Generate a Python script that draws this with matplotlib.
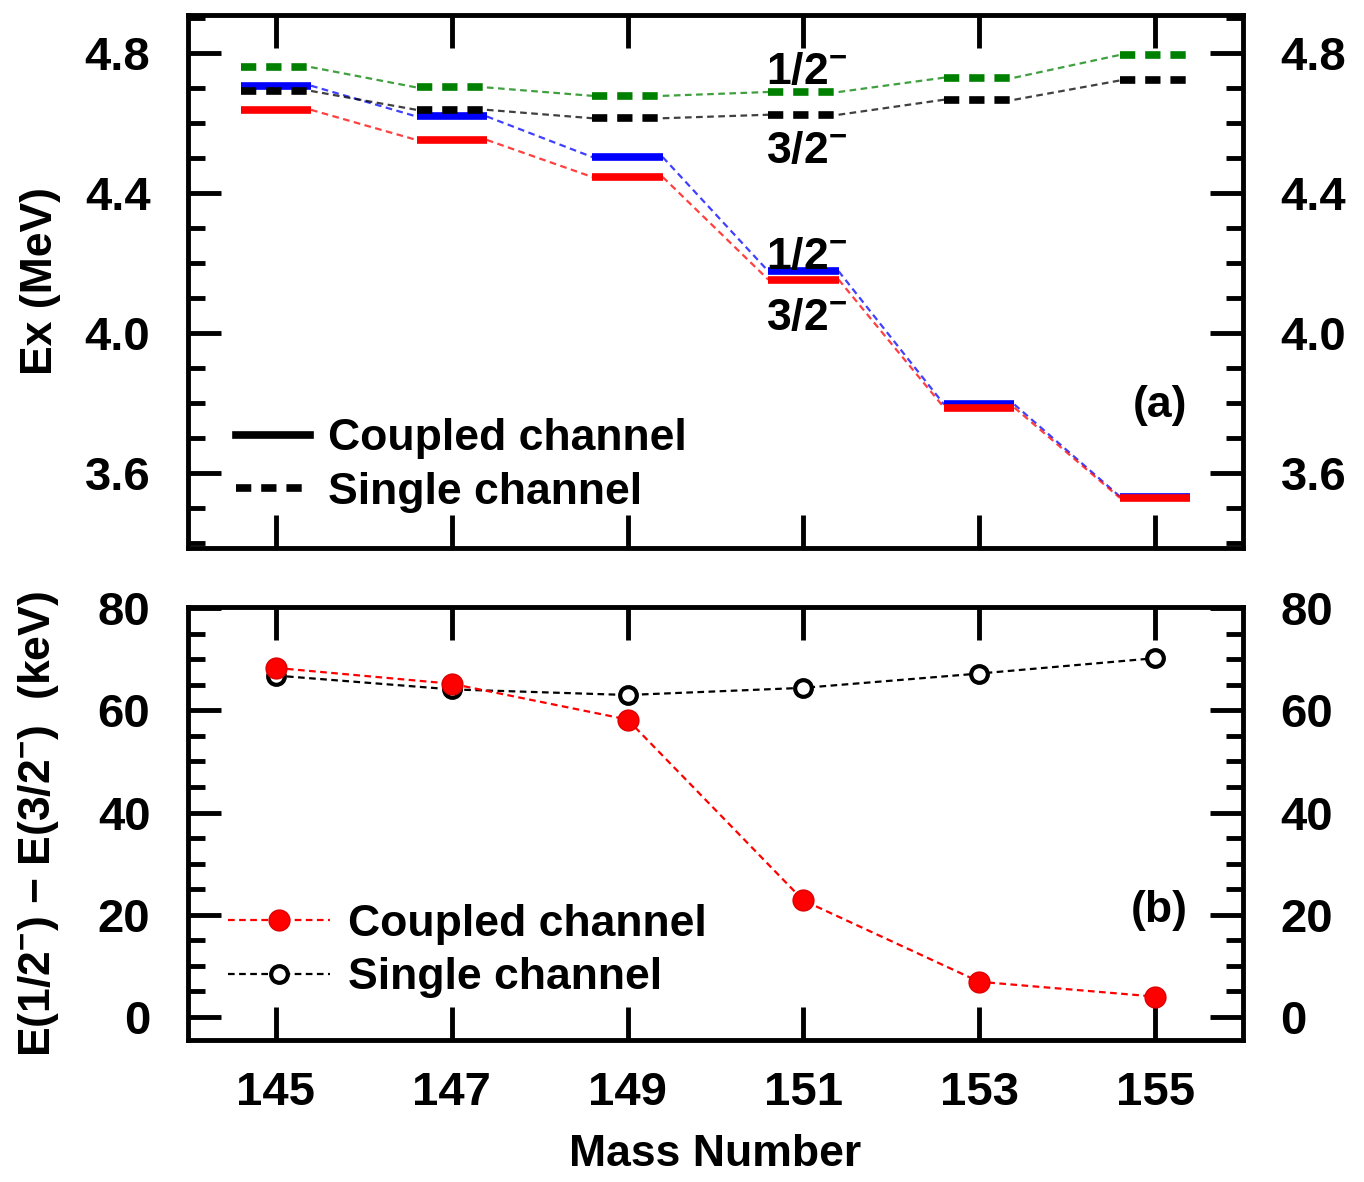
import numpy as np
import matplotlib
matplotlib.use("Agg")
import matplotlib.pyplot as plt
from matplotlib.lines import Line2D
from matplotlib.ticker import MultipleLocator

plt.rcParams["font.family"] = ["Liberation Sans", "DejaVu Sans"]
plt.rcParams["font.weight"] = "bold"
plt.rcParams["mathtext.default"] = "regular"

# Mass numbers
mass = [145, 147, 149, 151, 153, 155]

# Panel (a): excitation energies (MeV)
cc_half = [4.707, 4.619, 4.503, 4.177, 3.796, 3.533]    # coupled, 1/2-
cc_3half = [4.638, 4.552, 4.446, 4.153, 3.787, 3.529]   # coupled, 3/2-
sc_half = [4.760, 4.702, 4.678, 4.689, 4.730, 4.795]    # single, 1/2-
sc_3half = [4.692, 4.638, 4.614, 4.624, 4.667, 4.722]   # single, 3/2-

# Panel (b): splitting (keV)
split_cc = [68.3, 65.2, 58.2, 22.8, 6.9, 4.0]
split_sc = [66.8, 64.1, 63.0, 64.4, 67.2, 70.2]

FS = 32
TFS = 34
green = "#008000"

fig = plt.figure(figsize=(13.64, 11.82), dpi=100)
ax1 = fig.add_axes([0.1378, 0.5364, 0.7735, 0.4509])
ax2 = fig.add_axes([0.1378, 0.1201, 0.7735, 0.3663])

hw = 0.4  # half width of the level bars
m = np.array(mass, dtype=float)

series = [
    (cc_half, "blue", "-"),
    (cc_3half, "red", "-"),
    (sc_half, green, "--"),
    (sc_3half, "black", "--"),
]
for vals, col, ls in series:
    v = np.array(vals)
    # thin connectors between neighbouring levels
    for i in range(len(m) - 1):
        ax1.plot([m[i] + hw, m[i + 1] - hw], [v[i], v[i + 1]], color=col,
                 lw=1.6, ls=(0, (3, 2)), alpha=0.75, zorder=2)
    if ls == "-":
        ax1.hlines(v, m - hw, m + hw, colors=col, lw=5.5, zorder=3)
    else:
        ax1.hlines(v, m - hw, m + hw, colors=col, lw=5.5,
                   linestyles=(0, (2.0, 1.3)), zorder=3)

ax1.set_xlim(144, 156)
ax1.set_ylim(3.386, 4.909)
ax1.yaxis.set_major_locator(MultipleLocator(0.4))
ax1.yaxis.set_minor_locator(MultipleLocator(0.1))
ax1.set_ylabel("Ex (MeV)", fontsize=FS, fontweight="bold")
ax1.yaxis.set_label_coords(-0.12, 0.5)

lab_kw = dict(fontsize=FS, fontweight="bold", ha="left", va="center")
ax1.text(150.58, 4.745, r"1/2$^{-}$", **lab_kw)
ax1.text(150.58, 4.518, r"3/2$^{-}$", **lab_kw)
ax1.text(150.58, 4.215, r"1/2$^{-}$", **lab_kw)
ax1.text(150.58, 4.043, r"3/2$^{-}$", **lab_kw)
ax1.text(0.921, 0.268, "(a)", transform=ax1.transAxes, fontsize=FS,
         fontweight="bold", ha="center", va="center")

h1 = [Line2D([], [], color="black", lw=5.5),
      Line2D([], [], color="black", lw=5.5, ls=(0, (2.0, 1.3)))]
ax1.legend(h1, ["Coupled channel", "Single channel"], loc="upper left",
           bbox_to_anchor=(0.046, 0.243), frameon=False, fontsize=FS,
           borderpad=0, borderaxespad=0, handlelength=1.65,
           handletextpad=0.4, labelspacing=0.28)

# Panel (b)
ax2.plot(mass, split_cc, color="red", lw=1.6, ls=(0, (3, 2)), marker="o",
         ms=15, mfc="red", mec="#dd0000", zorder=3)
ax2.plot(mass, split_sc, color="black", lw=1.6, ls=(0, (3, 2)), marker="o",
         ms=12, mfc="white", mec="black", mew=3, zorder=2)
ax2.set_xlim(144, 156)
ax2.set_ylim(-4.5, 80.2)
ax2.yaxis.set_major_locator(MultipleLocator(20))
ax2.yaxis.set_minor_locator(MultipleLocator(5))
ax2.set_xticks(mass)
ax2.set_xlabel("Mass Number", fontsize=FS, fontweight="bold", labelpad=14)
ax2.set_ylabel(r"E(1/2$^{-}$) $-$ E(3/2$^{-}$)  (keV)", fontsize=FS,
               fontweight="bold")
ax2.yaxis.set_label_coords(-0.12, 0.5)
ax2.text(0.921, 0.30, "(b)", transform=ax2.transAxes, fontsize=FS,
         fontweight="bold", ha="center", va="center")

h2 = [Line2D([], [], color="red", lw=1.6, ls=(0, (3, 2)), marker="o", ms=15,
             mfc="red", mec="#dd0000"),
      Line2D([], [], color="black", lw=1.6, ls=(0, (3, 2)), marker="o",
             ms=12, mfc="white", mec="black", mew=3)]
ax2.legend(h2, ["Coupled channel", "Single channel"], loc="upper left",
           bbox_to_anchor=(0.038, 0.315), frameon=False, fontsize=FS,
           borderpad=0, borderaxespad=0, handlelength=2.3,
           handletextpad=0.4, labelspacing=0.28, numpoints=1)

for ax in (ax1, ax2):
    ax.set_xticks(mass)
    for s in ax.spines.values():
        s.set_linewidth(3.5)
    ax.tick_params(axis="both", which="major", direction="in", length=24,
                   width=3.5, labelsize=TFS, top=True, right=True,
                   labelright=True)
    ax.tick_params(axis="y", which="major", pad=27)
    ax.tick_params(axis="x", which="major", pad=22)
    ax.tick_params(axis="y", which="minor", direction="in", length=12,
                   width=3.5, right=True)
    ax.tick_params(axis="x", which="minor", bottom=False, top=False)
    for lbl in ax.get_xticklabels() + ax.get_yticklabels():
        lbl.set_fontweight("bold")

ax1.tick_params(axis="x", labelbottom=False)

fig.savefig("out.png", dpi=100)
